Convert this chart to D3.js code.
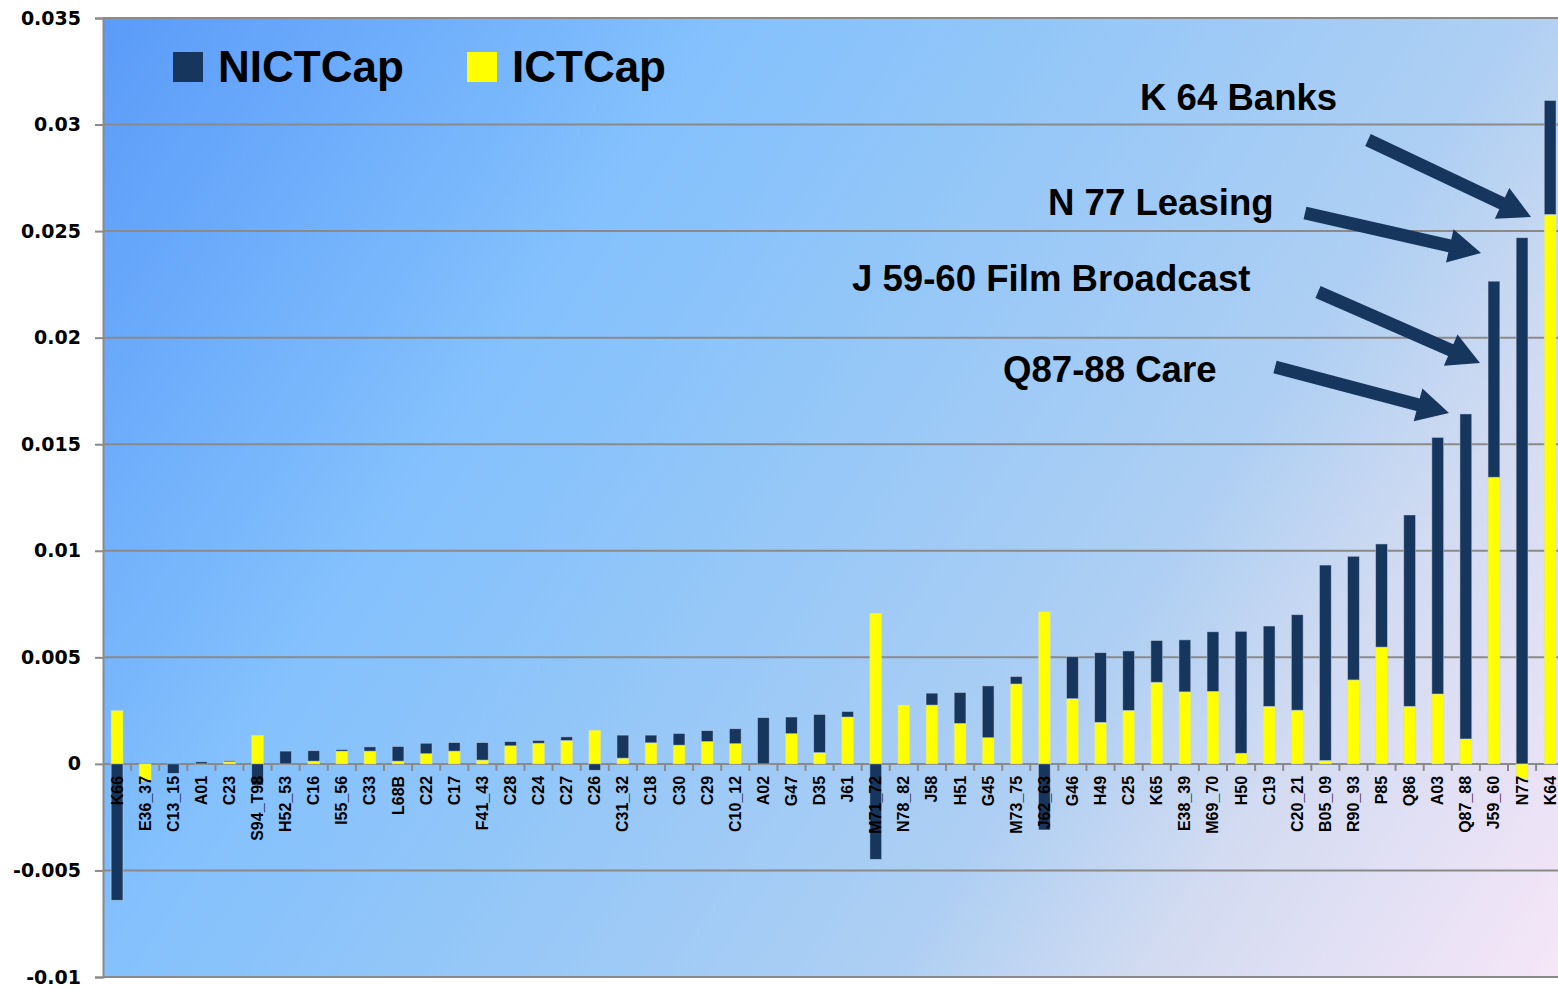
<!DOCTYPE html>
<html>
<head>
<meta charset="utf-8">
<script src="https://cdn.jsdelivr.net/npm/d3@7"></script>
<style>
  body { margin: 0; background: #fff; }
  svg { display: block; }
</style>
</head>
<body>
<svg id="chart" width="1558" height="990"></svg>
<script>
  // industries, sorted as in the picture
  var categories = ["K66", "E36_37", "C13_15", "A01", "C23", "S94_T98", "H52_53", "C16", "I55_56", "C33",
    "L68B", "C22", "C17", "F41_43", "C28", "C24", "C27", "C26", "C31_32", "C18",
    "C30", "C29", "C10_12", "A02", "G47", "D35", "J61", "M71_72", "N78_82", "J58",
    "H51", "G45", "M73_75", "J62_63", "G46", "H49", "C25", "K65", "E38_39", "M69_70",
    "H50", "C19", "C20_21", "B05_09", "R90_93", "P85", "Q86", "A03", "Q87_88", "J59_60",
    "N77", "K64"];

  var ictCap = [0.0025, -0.0008, 0, 0, 0.0001, 0.00134, 0, 0.00013, 0.0006, 0.0006,
    0.00013, 0.00048, 0.0006, 0.00018, 0.00085, 0.00097, 0.0011, 0.00158, 0.00027, 0.00099,
    0.00088, 0.00105, 0.00095, 0, 0.00142, 0.00053, 0.0022, 0.00707, 0.00276, 0.00276,
    0.0019, 0.00123, 0.00375, 0.00714, 0.00306, 0.00195, 0.00251, 0.00383, 0.00338, 0.0034,
    0.0005, 0.0027, 0.00252, 0.00016, 0.00394, 0.00548, 0.0027, 0.00328, 0.00117, 0.01345,
    -0.0007, 0.02578];

  var nictCap = [-0.0064, 0, -0.00045, 0.0001, 0.00005, -0.001, 0.0006, 0.00049, 0.00008, 0.0002,
    0.00069, 0.00049, 0.0004, 0.00082, 0.0002, 0.00013, 0.00017, -0.0003, 0.00108, 0.00036,
    0.00055, 0.00051, 0.0007, 0.00217, 0.00078, 0.00179, 0.00026, -0.00448, 0, 0.00056,
    0.00145, 0.00243, 0.00035, -0.0031, 0.00197, 0.00327, 0.00279, 0.00196, 0.00244, 0.0028,
    0.00572, 0.00377, 0.00448, 0.00917, 0.0058, 0.00484, 0.00898, 0.01204, 0.01525, 0.0092,
    0.02469, 0.00535];

  var yTicks = [-0.01, -0.005, 0, 0.005, 0.01, 0.015, 0.02, 0.025, 0.03, 0.035];

  var notes = [
    { text: "K 64 Banks", x: 1140, y: 110, from: [1368, 140], to: [1531, 217] },
    { text: "N 77 Leasing", x: 1048, y: 215, from: [1305, 213], to: [1481, 253] },
    { text: "J 59-60 Film Broadcast", x: 852, y: 291, from: [1318, 292], to: [1480, 363] },
    { text: "Q87-88 Care", x: 1003, y: 382, from: [1275, 367], to: [1449, 413] }
  ];

  var navy = "#17365d", yellow = "#ffff00", grid = "#8a8a8a";
  var plotL = 103, plotT = 18, plotB = 977, plotR = 1558;

  var svg = d3.select("#chart");

  var x = d3.scaleBand()
      .domain(categories)
      .range([plotL, plotL + 52 * 28.1])
      .paddingInner(0.58)
      .paddingOuter(0.29);

  var y = d3.scaleLinear()
      .domain([-0.01, 0.035])
      .range([plotB, plotT]);

  // background
  var defs = svg.append("defs");
  var grad = defs.append("linearGradient")
      .attr("id", "bg")
      .attr("gradientUnits", "userSpaceOnUse")
      .attr("x1", plotL).attr("y1", plotT)
      .attr("x2", plotR).attr("y2", plotB);
  [["0", "#5a9bf9"], ["0.3", "#84c1fd"], ["0.42", "#8fc5f9"], ["0.68", "#aecff3"],
   ["0.8", "#d2dbf1"], ["1", "#f6e6f8"]].forEach(function(s) {
    grad.append("stop").attr("offset", s[0]).attr("stop-color", s[1]);
  });

  svg.append("rect")
      .attr("x", plotL).attr("y", plotT)
      .attr("width", plotR - plotL).attr("height", plotB - plotT)
      .attr("fill", "url(#bg)");

  // grid lines
  svg.append("g").selectAll("line")
      .data(yTicks)
      .enter().append("line")
      .attr("x1", plotL).attr("x2", plotR)
      .attr("y1", function(d) { return y(d); })
      .attr("y2", function(d) { return y(d); })
      .attr("stroke", grid)
      .attr("stroke-width", 2);

  // y axis
  var yAxis = svg.append("g")
      .attr("transform", "translate(" + plotL + ",0)")
      .call(d3.axisLeft(y).tickValues(yTicks).tickSize(8).tickPadding(14)
        .tickFormat(function(d) { return String(+d.toFixed(3)); }));
  yAxis.select(".domain").attr("stroke", grid).attr("stroke-width", 2);
  yAxis.selectAll(".tick line").attr("stroke", grid).attr("stroke-width", 2);
  yAxis.selectAll("text")
      .attr("fill", "#000")
      .style("font-family", "'DejaVu Sans', Verdana, sans-serif")
      .style("font-weight", "bold")
      .style("font-size", "19px");

  // x ticks between categories
  var bounds = d3.range(1, categories.length + 1).map(function(i) { return plotL + i * x.step(); });
  svg.append("g").selectAll("line")
      .data(bounds)
      .enter().append("line")
      .attr("x1", function(d) { return d; }).attr("x2", function(d) { return d; })
      .attr("y1", y(0)).attr("y2", y(0) + 7)
      .attr("stroke", grid)
      .attr("stroke-width", 2);

  // stacked bars
  var rows = categories.map(function(c, i) { return { cat: c, ICT: ictCap[i], NICT: nictCap[i] }; });
  var series = d3.stack()
      .keys(["ICT", "NICT"])
      .offset(d3.stackOffsetDiverging)(rows);
  var colour = { ICT: yellow, NICT: navy };

  svg.append("g").selectAll("g")
      .data(series)
      .enter().append("g")
      .attr("fill", function(s) { return colour[s.key]; })
      .selectAll("rect")
      .data(function(s) { return s; })
      .enter().append("rect")
      .attr("x", function(d) { return x(d.data.cat); })
      .attr("width", x.bandwidth())
      .attr("y", function(d) { return y(Math.max(d[0], d[1])); })
      .attr("height", function(d) { return Math.abs(y(d[0]) - y(d[1])); })
      .attr("stroke", "rgba(200,215,235,0.6)")
      .attr("stroke-width", 0.8);

  // category labels
  svg.append("g").selectAll("text")
      .data(categories)
      .enter().append("text")
      .attr("transform", function(d) {
        return "translate(" + (x(d) + x.bandwidth() / 2 + 5.5) + "," + (y(0) + 12) + ") rotate(-90)";
      })
      .attr("text-anchor", "end")
      .style("font-family", "'Liberation Sans', Arial, sans-serif")
      .style("font-weight", "bold")
      .style("font-size", "16px")
      .text(function(d) { return d; });

  // legend
  var legend = [{ name: "NICTCap", c: navy, x: 173 }, { name: "ICTCap", c: yellow, x: 467 }];
  var lg = svg.append("g").selectAll("g")
      .data(legend)
      .enter().append("g");
  lg.append("rect")
      .attr("x", function(d) { return d.x; }).attr("y", 52)
      .attr("width", 30).attr("height", 30)
      .attr("fill", function(d) { return d.c; });
  lg.append("text")
      .attr("x", function(d) { return d.x + 45; }).attr("y", 82)
      .style("font-family", "'Liberation Sans', Arial, sans-serif")
      .style("font-weight", "bold")
      .style("font-size", "44px")
      .text(function(d) { return d.name; });

  // annotations with arrows
  function arrow(a, b) {
    var dx = b[0] - a[0], dy = b[1] - a[1];
    var len = Math.sqrt(dx * dx + dy * dy);
    var ux = dx / len, uy = dy / len, px = -uy, py = ux;
    var head = 32, hw = 17, sw = 6.5;
    var bx = b[0] - ux * head, by = b[1] - uy * head;
    var pts = [
      [a[0] + px * sw, a[1] + py * sw],
      [bx + px * sw, by + py * sw],
      [bx + px * hw, by + py * hw],
      b,
      [bx - px * hw, by - py * hw],
      [bx - px * sw, by - py * sw],
      [a[0] - px * sw, a[1] - py * sw]
    ];
    return "M" + pts.map(function(p) { return p[0] + "," + p[1]; }).join("L") + "Z";
  }

  var ann = svg.append("g").selectAll("g")
      .data(notes)
      .enter().append("g");
  ann.append("path")
      .attr("d", function(d) { return arrow(d.from, d.to); })
      .attr("fill", navy);
  ann.append("text")
      .attr("x", function(d) { return d.x; })
      .attr("y", function(d) { return d.y; })
      .style("font-family", "'Liberation Sans', Arial, sans-serif")
      .style("font-weight", "bold")
      .style("font-size", "36.6px")
      .text(function(d) { return d.text; });
</script>
</body>
</html>
